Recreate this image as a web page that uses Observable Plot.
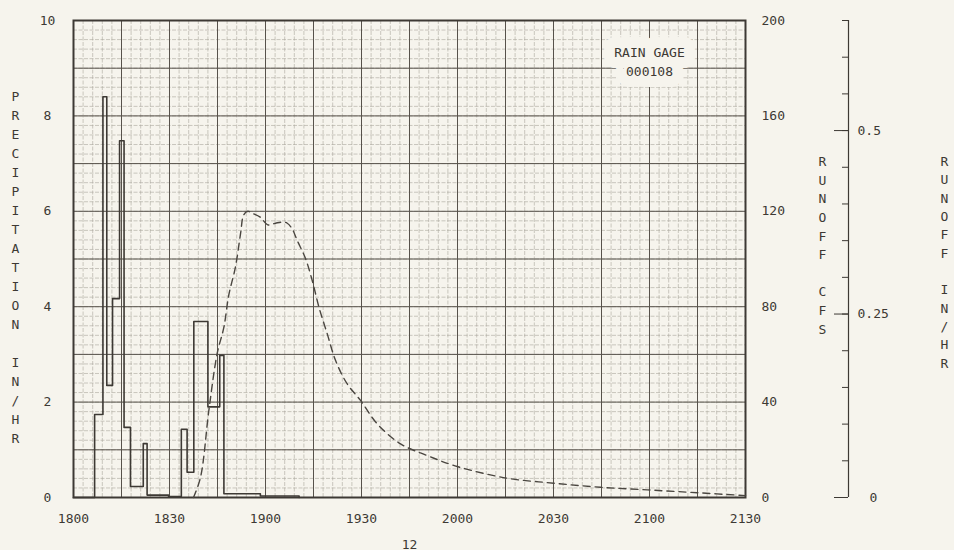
<!DOCTYPE html>
<html><head><meta charset="utf-8">
<script src="https://cdn.jsdelivr.net/npm/d3@7"></script>
<script src="https://cdn.jsdelivr.net/npm/@observablehq/plot@0.6"></script>
<style>
html,body{margin:0;padding:0;background:#f6f4ed;}
#chart{width:954px;height:550px;}
</style></head><body><div id="chart"></div>
<script>
// ---- data (minutes after 18:00) ----
const rainMinutes   = [0, 6.6, 9.2, 10.4, 12.2, 14.4, 15.8, 17.8, 21.8, 23.0, 29.7, 33.7, 35.5, 37.6, 42.0, 45.7, 47.0, 58.4, 70.5];
const rainIntensity = [0, 1.74, 8.4, 2.35, 4.17, 7.48, 1.47, 0.23, 1.13, 0.05, 0.02, 1.43, 0.53, 3.69, 1.90, 2.98, 0.08, 0.03, 0];

const runoffMinutes = [37.5, 39.7, 42.3, 44.9, 47.0, 48.5, 50.6, 52.2, 53.2, 54.5, 55.8, 58.4, 60.7, 63.1, 65.5, 66.8, 68.3, 69.9, 72.5, 74.6, 76.7, 79.3, 81.9, 85.5, 89.7, 94.9, 102.2, 110.5, 119.9, 135.5, 150.1, 164.7, 179.3, 194.9, 210];
const runoffCfs     = [0, 8.5, 36.5, 60.4, 71.4, 84.7, 96.6, 110.6, 118.5, 120.0, 119.2, 117.5, 114.3, 115.0, 115.5, 115.0, 112.7, 107.8, 100.2, 91.0, 79.8, 68.6, 57.4, 47.7, 40.7, 30.9, 22.5, 17.6, 13.0, 8.1, 6.0, 4.3, 3.2, 2.0, 0.8];

const timeTicks  = [0, 30, 60, 90, 120, 150, 180, 210];
const timeLabels = ["1800", "1830", "1900", "1930", "2000", "2030", "2100", "2130"];
const precipTicks = [0, 2, 4, 6, 8, 10];
const cfsTicks    = [0, 40, 80, 120, 160, 200];
const inhrTicks   = [0, 0.05, 0.1, 0.15, 0.2, 0.25, 0.3, 0.35, 0.4, 0.45, 0.5, 0.55, 0.6, 0.65];
const inhrMajor   = [0, 0.25, 0.5];
const inhrLabels  = [0.25, 0.5];
const inhrLabelText = ["0.25", "0.5"];
const inhrZero    = [0];

const leftTitle  = "PRECIPITATION IN/HR";
const cfsTitle   = "RUNOFF CFS";
const inhrTitle  = "RUNOFF IN/HR";
const gageLabel  = "RAIN GAGE\n000108";
const pageNumber = "12";

// scale relations between the three vertical axes
const CFS_PER_UNIT = 20;     // 200 cfs == 10 in/hr precipitation
const INHR_FULL = 0.65;      // right-most axis full scale

const rain = rainMinutes.map((t, i) => ({t, v: rainIntensity[i]}));
const runoff = runoffMinutes.map((t, i) => ({t, q: runoffCfs[i]}));
const inhrToY = v => v / INHR_FULL * 10;
const vertical = s => s.split("").join("\n");

const ink = "#3d3934";
const paper = "#f6f4ed";
const txt = {fill: ink, fontSize: 13, letterSpacing: 1.5};
const chart = Plot.plot({
  width: 954,
  height: 550,
  marginLeft: 73,
  marginRight: 209,
  marginTop: 20,
  marginBottom: 53,
  style: {background: paper, fontFamily: "'DejaVu Sans Mono', monospace", fontSize: "13px", color: ink},
  x: {domain: [0, 210], axis: null},
  y: {domain: [0, 10], axis: null},
  marks: [
    // minor grid
    Plot.ruleX(d3.range(0, 210.01, 3), {stroke: "#aaa69c", strokeWidth: 0.6, strokeDasharray: "4,1.5"}),
    Plot.ruleY(d3.range(0, 10.01, 0.2), {stroke: "#aaa69c", strokeWidth: 0.6, strokeDasharray: "4,1.5"}),
    // major grid
    Plot.ruleX(d3.range(0, 210.01, 15), {stroke: "#57524b", strokeWidth: 1}),
    Plot.ruleY(d3.range(0, 10.01, 1), {stroke: "#57524b", strokeWidth: 1}),
    Plot.frame({stroke: ink, strokeWidth: 2}),
    // gage label (paper-coloured halo masks the grid behind it)
    Plot.text([gageLabel], {frameAnchor: "top-right", textAnchor: "middle", lineAnchor: "top", dx: -96, dy: 24, lineHeight: 1.4,
      fill: paper, stroke: paper, strokeWidth: 22, strokeLinejoin: "round", fontSize: 13, letterSpacing: 0.8}),
    Plot.text([gageLabel], {frameAnchor: "top-right", textAnchor: "middle", lineAnchor: "top", dx: -96, dy: 24, lineHeight: 1.4,
      fill: ink, fontSize: 13, letterSpacing: 0.8}),
    // rainfall hyetograph
    Plot.line(rain, {x: "t", y: "v", curve: "step-after", stroke: ink, strokeWidth: 1.6}),
    // runoff hydrograph (cfs on the right axis)
    Plot.line(runoff, {x: "t", y: d => d.q / CFS_PER_UNIT, curve: "catmull-rom", stroke: "#4a4640", strokeWidth: 1.4, strokeDasharray: "7,5"}),
    // axes
    Plot.axisY({anchor: "left", label: null, ticks: precipTicks, tickSize: 0, tickPadding: 26, textAnchor: "middle", ...txt}),
    Plot.axisY({anchor: "right", label: null, ticks: cfsTicks.map(c => c / CFS_PER_UNIT), tickFormat: d => String(Math.round(d * CFS_PER_UNIT)), tickSize: 0, tickPadding: 16, ...txt}),
    Plot.axisX({anchor: "bottom", label: null, ticks: timeTicks, tickFormat: d => timeLabels[timeTicks.indexOf(d)], tickSize: 0, tickPadding: 16, ...txt}),
    // runoff in/hr axis
    Plot.ruleX([210], {dx: 103, stroke: ink, strokeWidth: 1.2}),
    Plot.axisY({anchor: "left", label: null, ticks: inhrTicks.map(inhrToY), tickFormat: () => "", tickSize: 6, dx: 775, stroke: ink}),
    Plot.axisY({anchor: "left", label: null, ticks: inhrMajor.map(inhrToY), tickFormat: () => "", tickSize: 14, dx: 775, stroke: ink}),
    Plot.axisY({anchor: "right", label: null, ticks: inhrLabels.map(inhrToY), tickFormat: d => inhrLabelText[inhrLabels.map(inhrToY).indexOf(d)], tickSize: 0, tickPadding: 9, dx: 103, ...txt}),
    Plot.axisY({anchor: "right", label: null, ticks: inhrZero.map(inhrToY), tickFormat: d => "0", tickSize: 0, tickPadding: 21, dx: 103, ...txt}),
    // vertical titles
    Plot.text([vertical(leftTitle)], {frameAnchor: "left", textAnchor: "middle", dx: -58, dy: 7, lineHeight: 1.46, fill: ink, fontSize: 13}),
    Plot.text([vertical(cfsTitle)], {frameAnchor: "right", textAnchor: "middle", dx: 77, dy: -15, lineHeight: 1.43, fill: ink, fontSize: 13}),
    Plot.text([vertical(inhrTitle)], {frameAnchor: "right", textAnchor: "middle", dx: 199, dy: 2, lineHeight: 1.41, fill: ink, fontSize: 13}),
    // page number
    Plot.text([pageNumber], {frameAnchor: "bottom", dy: 51, fill: ink, fontSize: 13})
  ]
});
document.getElementById("chart").appendChild(chart);
</script></body></html>
